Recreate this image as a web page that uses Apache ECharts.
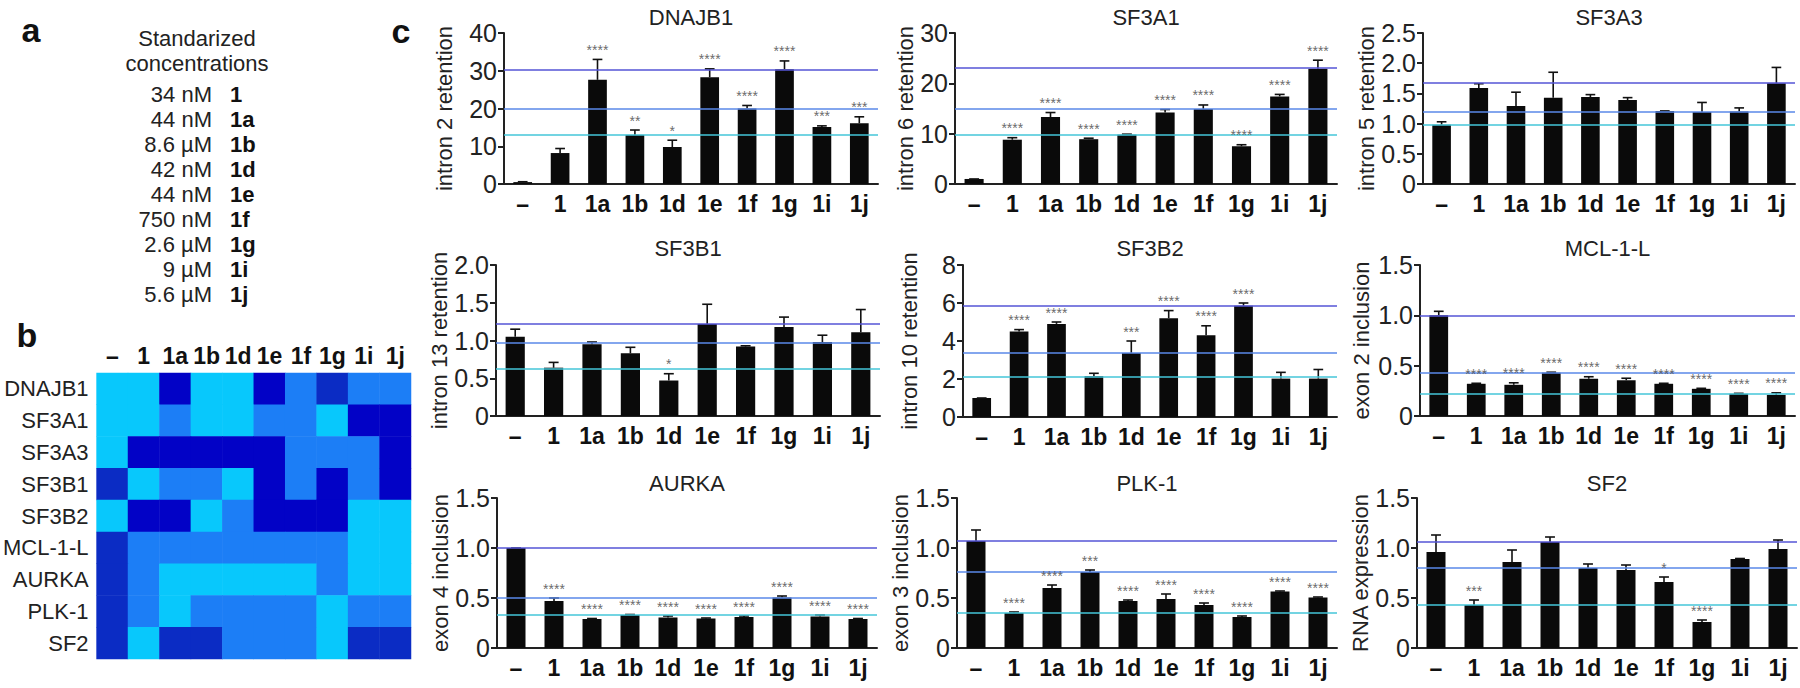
<!DOCTYPE html>
<html>
<head>
<meta charset="utf-8">
<title>Splicing panels</title>
<script src="https://cdn.jsdelivr.net/npm/echarts@6/dist/echarts.min.js"></script>
<style>
  html, body { margin: 0; padding: 0; background: #fff; }
  #chart { width: 1800px; height: 688px; }
</style>
</head>
<body>
<div id="chart"></div>
<script>
// categories shared by every bar chart and by the heatmap columns
const compounds = ['–', '1', '1a', '1b', '1d', '1e', '1f', '1g', '1i', '1j'];

// panel a
const concentrations = ['34 nM', '44 nM', '8.6 µM', '42 nM', '44 nM', '750 nM', '2.6 µM', '9 µM', '5.6 µM'];

// panel b: colour level per cell (0 light cyan .. 3 dark blue)
const heatRows = ['DNAJB1', 'SF3A1', 'SF3A3', 'SF3B1', 'SF3B2', 'MCL-1-L', 'AURKA', 'PLK-1', 'SF2'];
const heatLevels = [
  [0, 0, 3, 0, 0, 3, 1, 2, 1, 1],
  [0, 0, 1, 0, 0, 1, 1, 0, 3, 3],
  [0, 3, 3, 3, 3, 3, 1, 1, 1, 3],
  [2, 0, 1, 1, 0, 3, 1, 3, 1, 3],
  [0, 3, 3, 0, 1, 3, 3, 3, 0, 0],
  [2, 1, 1, 1, 1, 1, 1, 1, 0, 0],
  [2, 1, 0, 0, 0, 0, 0, 1, 0, 0],
  [2, 1, 0, 1, 1, 1, 1, 0, 1, 1],
  [2, 0, 2, 2, 1, 1, 1, 0, 2, 2]
];

// panel c: mean, SEM, significance, reference lines
const dnajb1Mean = [0.5, 8.2, 27.6, 13.0, 9.8, 28.3, 20.0, 30.4, 15.1, 16.1];
const dnajb1Sem = [0.1, 1.2, 5.4, 1.3, 1.8, 2.2, 0.8, 2.2, 0.3, 1.7];
const dnajb1Stars = ['', '', '****', '**', '*', '****', '****', '****', '***', '***'];
const dnajb1Lines = [30.3, 20.0, 13.0];

const sf3a1Mean = [1.0, 8.8, 13.3, 8.9, 9.8, 14.2, 14.9, 7.5, 17.4, 22.9];
const sf3a1Sem = [0, 0.4, 0.9, 0.2, 0.1, 0.6, 0.8, 0.3, 0.4, 1.7];
const sf3a1Stars = ['', '****', '****', '****', '****', '****', '****', '****', '****', '****'];
const sf3a1Lines = [23.0, 15.0, 9.8];

const sf3a3Mean = [0.98, 1.59, 1.29, 1.43, 1.44, 1.39, 1.21, 1.19, 1.20, 1.67];
const sf3a3Sem = [0.05, 0.07, 0.23, 0.42, 0.04, 0.04, 0, 0.16, 0.06, 0.26];
const sf3a3Stars = ['', '', '', '', '', '', '', '', '', ''];
const sf3a3Lines = [1.67, 1.20, 0.98];

const sf3b1Mean = [1.05, 0.64, 0.95, 0.83, 0.47, 1.22, 0.92, 1.18, 0.98, 1.11];
const sf3b1Sem = [0.10, 0.07, 0.03, 0.08, 0.09, 0.26, 0.01, 0.13, 0.09, 0.30];
const sf3b1Stars = ['', '', '', '', '*', '', '', '', '', ''];
const sf3b1Lines = [1.22, 0.97, 0.63];

const sf3b2Mean = [1.0, 4.5, 4.9, 2.15, 3.37, 5.2, 4.3, 5.85, 2.02, 2.02];
const sf3b2Sem = [0, 0.1, 0.1, 0.15, 0.63, 0.4, 0.5, 0.15, 0.33, 0.48];
const sf3b2Stars = ['', '****', '****', '', '***', '****', '****', '****', '', ''];
const sf3b2Lines = [5.85, 3.37, 2.1];

const mclMean = [1.0, 0.32, 0.31, 0.43, 0.37, 0.355, 0.32, 0.27, 0.22, 0.21];
const mclSem = [0.04, 0.005, 0.02, 0.005, 0.02, 0.02, 0.005, 0.005, 0.005, 0.02];
const mclStars = ['', '****', '****', '****', '****', '****', '****', '****', '****', '****'];
const mclLines = [1.0, 0.43, 0.22];

const aurkaMean = [1.0, 0.47, 0.29, 0.33, 0.305, 0.295, 0.31, 0.505, 0.315, 0.29];
const aurkaSem = [0, 0.03, 0.005, 0.005, 0.015, 0.005, 0.01, 0.015, 0.015, 0.005];
const aurkaStars = ['', '****', '****', '****', '****', '****', '****', '****', '****', '****'];
const aurkaLines = [1.0, 0.5, 0.33];

const plkMean = [1.07, 0.35, 0.60, 0.76, 0.47, 0.49, 0.43, 0.31, 0.565, 0.505];
const plkSem = [0.11, 0.01, 0.03, 0.02, 0.01, 0.05, 0.02, 0.01, 0.005, 0.005];
const plkStars = ['', '****', '****', '***', '****', '****', '****', '****', '****', '****'];
const plkLines = [1.07, 0.76, 0.35];

const sf2Mean = [0.96, 0.43, 0.86, 1.06, 0.80, 0.78, 0.66, 0.26, 0.89, 0.99];
const sf2Sem = [0.17, 0.05, 0.12, 0.05, 0.04, 0.05, 0.05, 0.02, 0.005, 0.09];
const sf2Stars = ['', '***', '', '', '', '', '*', '****', '', ''];
const sf2Lines = [1.06, 0.80, 0.43];

const panelTitles = ['DNAJB1', 'SF3A1', 'SF3A3', 'SF3B1', 'SF3B2', 'MCL-1-L', 'AURKA', 'PLK-1', 'SF2'];
const panelAxisNames = ['intron 2 retention', 'intron 6 retention', 'intron 5 retention',
  'intron 13 retention', 'intron 10 retention', 'exon 2 inclusion',
  'exon 4 inclusion', 'exon 3 inclusion', 'RNA expression'];
const panelMax = [40, 30, 2.5, 2.0, 8, 1.5, 1.5, 1.5, 1.5];
const panelStep = [10, 10, 0.5, 0.5, 2, 0.5, 0.5, 0.5, 0.5];

const panelMeans = [dnajb1Mean, sf3a1Mean, sf3a3Mean, sf3b1Mean, sf3b2Mean, mclMean, aurkaMean, plkMean, sf2Mean];
const panelSems = [dnajb1Sem, sf3a1Sem, sf3a3Sem, sf3b1Sem, sf3b2Sem, mclSem, aurkaSem, plkSem, sf2Sem];
const panelStars = [dnajb1Stars, sf3a1Stars, sf3a3Stars, sf3b1Stars, sf3b2Stars, mclStars, aurkaStars, plkStars, sf2Stars];
const panelLines = [dnajb1Lines, sf3a1Lines, sf3a3Lines, sf3b1Lines, sf3b2Lines, mclLines, aurkaLines, plkLines, sf2Lines];

// layout (left, top, width, height) and name gaps
const boxes = [
  [504, 33, 374, 151], [955, 33, 382, 151], [1423, 33, 372, 151],
  [496, 265, 384, 151], [963, 265, 374, 152], [1420, 265, 375, 151],
  [497, 498, 380, 150], [957, 498, 380, 150], [1417, 498, 380, 150]
];
const nameGaps = [49, 37, 46, 41, 43, 48, 44, 44, 42];
const titleY = [17, 17, 17, 248, 248, 248, 483, 483, 483];

const FONT = '"Liberation Sans", Arial, sans-serif';
const refColors = ['#5454d6', '#5a88e8', '#45c6d8'];
const heatColors = ['#08c8fc', '#1c7ef6', '#0b2cc4', '#0202c6'];

const chart = echarts.init(document.getElementById('chart'), null, { renderer: 'svg' });

const grids = [], xAxes = [], yAxes = [], series = [], graphics = [];

function renderErr(params, api) {
  const x = api.value(0);
  const p0 = api.coord([x, api.value(1)]);
  const p1 = api.coord([x, api.value(2)]);
  const hw = api.size([1, 0])[0] * 0.13;
  const st = { stroke: '#111', lineWidth: 1.6 };
  return {
    type: 'group',
    children: [
      { type: 'line', shape: { x1: p0[0], y1: p0[1], x2: p1[0], y2: p1[1] }, style: st },
      { type: 'line', shape: { x1: p1[0] - hw, y1: p1[1], x2: p1[0] + hw, y2: p1[1] }, style: st }
    ]
  };
}

panelTitles.forEach((title, i) => {
  const b = boxes[i];
  const dec = panelStep[i] < 1;
  grids.push({ left: b[0], top: b[1], width: b[2], height: b[3] });
  xAxes.push({
    type: 'category', gridIndex: i, data: compounds,
    axisTick: { show: false },
    axisLine: { lineStyle: { color: '#222', width: 2 } },
    axisLabel: { fontSize: 23, fontWeight: 'bold', color: '#111', margin: 8, fontFamily: FONT, interval: 0 }
  });
  yAxes.push({
    type: 'value', gridIndex: i, min: 0, max: panelMax[i], interval: panelStep[i],
    name: panelAxisNames[i], nameLocation: 'middle', nameGap: nameGaps[i],
    nameTextStyle: { fontSize: 22, color: '#222', fontFamily: FONT },
    splitLine: { show: false },
    axisLine: { show: true, lineStyle: { color: '#222', width: 2 } },
    axisTick: { show: true, length: 6, lineStyle: { color: '#222', width: 2 } },
    axisLabel: {
      fontSize: 25, color: '#222', margin: 7, fontFamily: FONT,
      formatter: v => (v === 0 ? '0' : (dec ? v.toFixed(1) : String(v)))
    }
  });
  // reference lines under the bars
  series.push({
    type: 'line', xAxisIndex: i, yAxisIndex: i, data: [], z: 1,
    markLine: {
      silent: true, symbol: ['none', 'none'], label: { show: false },
      data: panelLines[i].map((v, k) => ({ yAxis: v, lineStyle: { color: refColors[k], width: 1.7, type: 'solid' } }))
    }
  });
  series.push({
    type: 'bar', xAxisIndex: i, yAxisIndex: i, data: panelMeans[i], z: 3,
    barWidth: '50%', itemStyle: { color: '#0a0a0a' }
  });
  series.push({
    type: 'custom', xAxisIndex: i, yAxisIndex: i, z: 4,
    renderItem: renderErr,
    data: panelMeans[i].map((m, k) => [k, m, m + panelSems[i][k]])
  });
  series.push({
    type: 'scatter', xAxisIndex: i, yAxisIndex: i, z: 5, symbolSize: 1,
    itemStyle: { color: 'rgba(0,0,0,0)' },
    data: panelMeans[i].map((m, k) => [k, m + panelSems[i][k]]),
    label: {
      show: true, position: 'top', distance: 2, fontSize: 14, color: '#444', fontFamily: FONT,
      formatter: p => panelStars[i][p.dataIndex]
    }
  });
  graphics.push({
    type: 'text', x: b[0] + b[2] / 2, y: titleY[i],
    style: { text: title, font: '22px ' + FONT, fill: '#222', textAlign: 'center', textVerticalAlign: 'middle' }
  });
});

// heatmap (panel b)
const hIdx = grids.length;
grids.push({ left: 95, top: 373, width: 316, height: 286 });
xAxes.push({
  type: 'category', gridIndex: hIdx, data: compounds, position: 'top',
  axisLine: { show: false }, axisTick: { show: false },
  axisLabel: { fontSize: 23, fontWeight: 'bold', color: '#111', margin: 6, fontFamily: FONT, interval: 0 }
});
yAxes.push({
  type: 'category', gridIndex: hIdx, data: heatRows, inverse: true,
  axisLine: { show: false }, axisTick: { show: false },
  axisLabel: { fontSize: 22, color: '#222', margin: 8, fontFamily: FONT, interval: 0 }
});
const heatData = [];
heatLevels.forEach((row, r) => row.forEach((lv, c) => heatData.push([c, r, lv])));
series.push({
  type: 'heatmap', xAxisIndex: hIdx, yAxisIndex: hIdx, data: heatData,
  itemStyle: { borderWidth: 0 }
});

// panel letters and panel a text
const letter = (t, x, y) => ({
  type: 'text', x: x, y: y,
  style: { text: t, font: 'bold 34px ' + FONT, fill: '#111', textAlign: 'center', textVerticalAlign: 'middle' }
});
graphics.push(letter('a', 31, 30), letter('b', 27, 335), letter('c', 401, 31));
graphics.push({
  type: 'text', x: 197, y: 38,
  style: { text: 'Standarized', font: '22px ' + FONT, fill: '#222', textAlign: 'center', textVerticalAlign: 'middle' }
});
graphics.push({
  type: 'text', x: 197, y: 63,
  style: { text: 'concentrations', font: '22px ' + FONT, fill: '#222', textAlign: 'center', textVerticalAlign: 'middle' }
});
concentrations.forEach((c, k) => {
  const y = 94 + k * 25.1;
  graphics.push({
    type: 'text', x: 212, y: y,
    style: { text: c, font: '22px ' + FONT, fill: '#222', textAlign: 'right', textVerticalAlign: 'middle' }
  });
  graphics.push({
    type: 'text', x: 230, y: y,
    style: { text: compounds[k + 1], font: 'bold 22px ' + FONT, fill: '#111', textAlign: 'left', textVerticalAlign: 'middle' }
  });
});

chart.setOption({
  animation: false,
  backgroundColor: '#fff',
  grid: grids,
  xAxis: xAxes,
  yAxis: yAxes,
  visualMap: {
    show: false, type: 'piecewise', seriesIndex: series.length - 1, dimension: 2,
    pieces: heatColors.map((col, k) => ({ value: k, color: col }))
  },
  graphic: graphics,
  series: series
});
</script>
</body>
</html>
